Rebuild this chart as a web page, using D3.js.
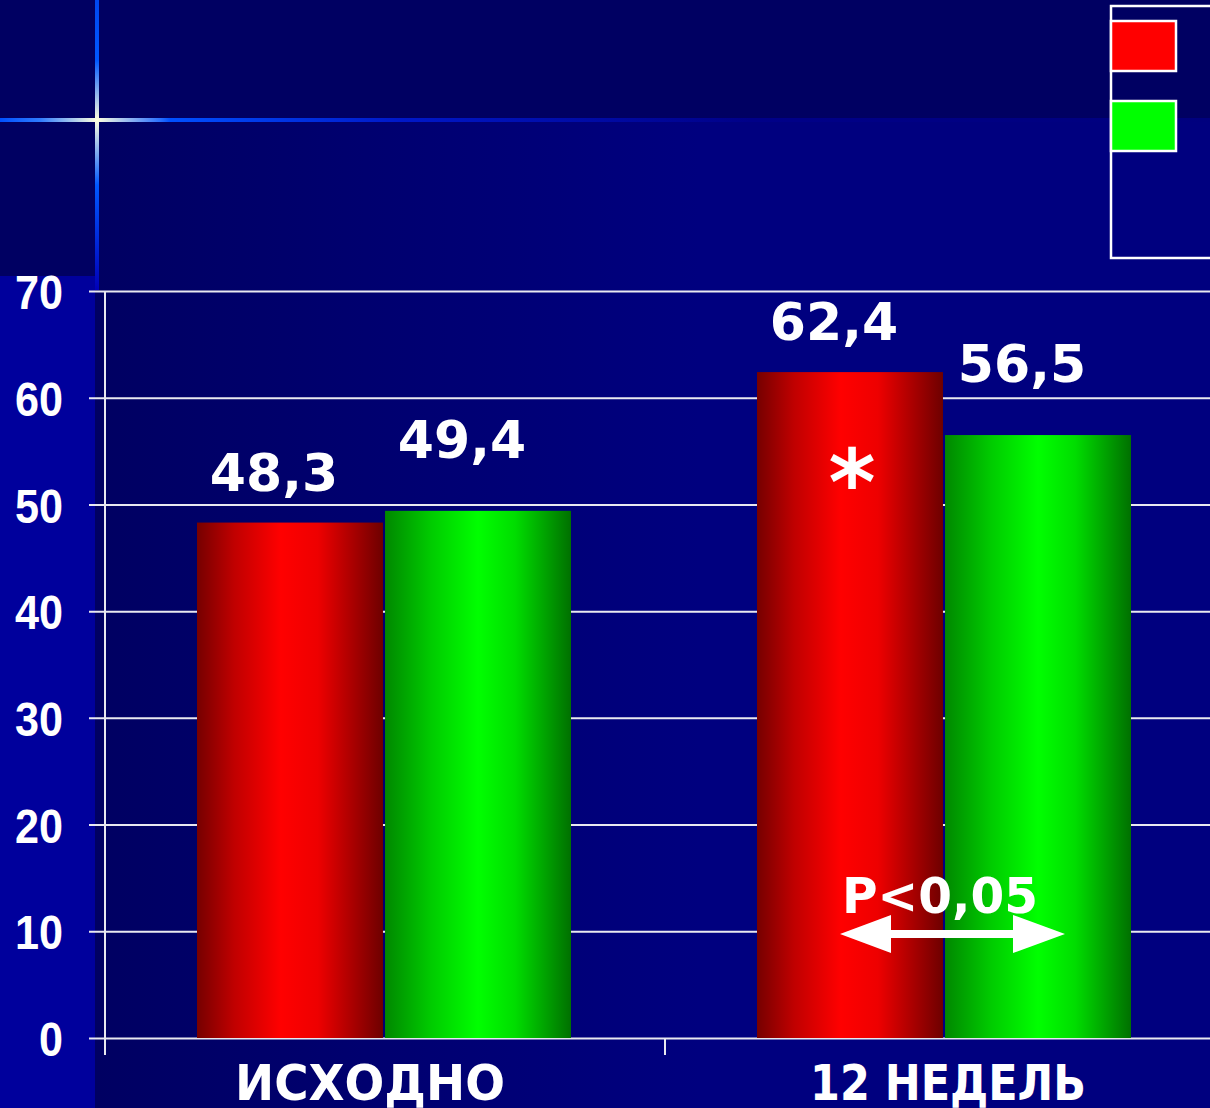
<!DOCTYPE html>
<html>
<head>
<meta charset="utf-8">
<script src="https://cdn.jsdelivr.net/npm/d3@7"></script>
<style>
  html, body { margin: 0; padding: 0; background: #000062; overflow: hidden; }
  svg { display: block; }
</style>
</head>
<body>
<svg id="chart" width="1210" height="1108"></svg>
<script>
// Chart data
const categories = ["ИСХОДНО", "12 НЕДЕЛЬ"];
const seriesKeys = ["a", "b"];
const seriesA = [48.3, 62.4];
const seriesB = [49.4, 56.5];
const valueLabelsA = ["48,3", "62,4"];
const valueLabelsB = ["49,4", "56,5"];
const yTicks = [0, 10, 20, 30, 40, 50, 60, 70];
const pValueText = "P<0,05";
const markText = "*";

const W = 1210, H = 1108;
const svg = d3.select("#chart");
const defs = svg.append("defs");

// ---- background ----
const bgGrad = defs.append("linearGradient").attr("id", "bgGrad")
  .attr("gradientUnits", "userSpaceOnUse").attr("x1", 95).attr("x2", 700).attr("y1", 0).attr("y2", 0);
bgGrad.append("stop").attr("offset", 0).attr("stop-color", "#000062");
bgGrad.append("stop").attr("offset", 1).attr("stop-color", "#00007f");

svg.append("rect").attr("x", 0).attr("y", 0).attr("width", W).attr("height", H).attr("fill", "#000062");
svg.append("rect").attr("x", 0).attr("y", 120).attr("width", W).attr("height", H - 120).attr("fill", "url(#bgGrad)");
svg.append("rect").attr("x", 0).attr("y", 276).attr("width", 95).attr("height", H - 276).attr("fill", "#00009c");

// glowing cross
const hGrad = defs.append("linearGradient").attr("id", "hGrad")
  .attr("gradientUnits", "userSpaceOnUse").attr("x1", 0).attr("x2", W).attr("y1", 0).attr("y2", 0);
[[0, "#0050ff"], [40 / W, "#2f7cff"], [97 / W, "#ffffe0"], [160 / W, "#2a70ff"], [170 / W, "#0050ff"],
 [400 / W, "#0018c8"], [750 / W, "#000088"], [1, "#00007e"]]
  .forEach(([o, c]) => hGrad.append("stop").attr("offset", o).attr("stop-color", c));
const vGrad = defs.append("linearGradient").attr("id", "vGrad")
  .attr("gradientUnits", "userSpaceOnUse").attr("x1", 0).attr("x2", 0).attr("y1", 0).attr("y2", 290);
[[0, "#0048f0"], [60 / 290, "#0058ff"], [120 / 290, "#ffffe0"], [185 / 290, "#0058ff"], [1, "#0000b8"]]
  .forEach(([o, c]) => vGrad.append("stop").attr("offset", o).attr("stop-color", c));

svg.append("rect").attr("x", 0).attr("y", 118).attr("width", W).attr("height", 4).attr("fill", "url(#hGrad)");
svg.append("rect").attr("x", 95).attr("y", 0).attr("width", 4).attr("height", 290).attr("fill", "url(#vGrad)");

// ---- scales ----
const x = d3.scaleBand().domain(categories).range([105, 1225]).padding(0);
const y = d3.scaleLinear().domain([0, 70]).range([1038, 291]);
const inner = d3.scaleBand().domain(seriesKeys).range([92, 466]).paddingInner(0.011);

// ---- gridlines and y axis ----
const yAxis = d3.axisLeft(y).tickValues(yTicks).tickSize(0).tickPadding(42);
const gy = svg.append("g").attr("transform", "translate(105,0)").call(yAxis);
gy.select(".domain").remove();
gy.selectAll(".tick line")
  .attr("x1", -16).attr("x2", W - 105)
  .attr("stroke", "#e8e8f0").attr("stroke-width", 2);
gy.selectAll(".tick text")
  .attr("fill", "#ffffff")
  .attr("font-family", "'Liberation Sans', Arial, sans-serif")
  .attr("font-weight", "bold")
  .attr("font-size", 49)
  .attr("textLength", d => String(d).length * 24)
  .attr("lengthAdjust", "spacingAndGlyphs")
  .attr("dy", "0.36em");

// vertical axis line
svg.append("line").attr("x1", 105).attr("x2", 105).attr("y1", y(70)).attr("y2", 1055)
  .attr("stroke", "#e8e8f0").attr("stroke-width", 2);

// category separator ticks
const sepTicks = [x.range()[0], x(categories[1])];
svg.selectAll(".sep").data(sepTicks).enter().append("line")
  .attr("x1", d => d).attr("x2", d => d).attr("y1", y(0)).attr("y2", 1055)
  .attr("stroke", "#e8e8f0").attr("stroke-width", 2);

// ---- bar gradients ----
const redGrad = defs.append("linearGradient").attr("id", "redGrad").attr("x1", 0).attr("x2", 1).attr("y1", 0).attr("y2", 0);
[[0, "#760000"], [0.2, "#c00000"], [0.45, "#ff0000"], [0.65, "#ee0000"], [1, "#6e0000"]]
  .forEach(([o, c]) => redGrad.append("stop").attr("offset", o).attr("stop-color", c));
const greenGrad = defs.append("linearGradient").attr("id", "greenGrad").attr("x1", 0).attr("x2", 1).attr("y1", 0).attr("y2", 0);
[[0, "#008800"], [0.25, "#00cc00"], [0.5, "#00ff00"], [0.7, "#00dd00"], [1, "#007000"]]
  .forEach(([o, c]) => greenGrad.append("stop").attr("offset", o).attr("stop-color", c));

const barData = [];
categories.forEach((c, i) => {
  barData.push({ cat: c, key: "a", value: seriesA[i], label: valueLabelsA[i], fill: "url(#redGrad)", dy: -32 });
  barData.push({ cat: c, key: "b", value: seriesB[i], label: valueLabelsB[i], fill: "url(#greenGrad)", dy: -53 });
});

const bars = svg.append("g");
bars.selectAll("rect").data(barData).enter().append("rect")
  .attr("x", d => x(d.cat) + inner(d.key))
  .attr("y", d => y(d.value))
  .attr("width", inner.bandwidth())
  .attr("height", d => y(0) - y(d.value))
  .attr("fill", d => d.fill);

// value labels
const fontMain = "'DejaVu Sans', Verdana, sans-serif";
svg.append("g").selectAll("text").data(barData).enter().append("text")
  .attr("x", d => x(d.cat) + inner(d.key) + inner.bandwidth() / 2 - 16)
  .attr("y", d => y(d.value) + d.dy)
  .attr("text-anchor", "middle")
  .attr("fill", "#ffffff")
  .attr("font-family", fontMain)
  .attr("font-weight", "bold")
  .attr("font-size", 52)
  .text(d => d.label);

// category labels
const catWidths = [270, 276];
svg.append("g").selectAll("text").data(categories).enter().append("text")
  .attr("x", (d, i) => x(d) + x.bandwidth() / 2 - (i === 0 ? 15 : -3))
  .attr("y", 1100)
  .attr("text-anchor", "middle")
  .attr("fill", "#ffffff")
  .attr("font-family", fontMain)
  .attr("font-weight", "bold")
  .attr("font-size", 50)
  .attr("textLength", (d, i) => catWidths[i])
  .attr("lengthAdjust", "spacingAndGlyphs")
  .text(d => d);

// significance mark on the second red bar
const c2 = categories[1];
const redX = x(c2) + inner("a") + inner.bandwidth() / 2;
svg.append("text")
  .attr("x", redX + 2)
  .attr("y", 514)
  .attr("text-anchor", "middle")
  .attr("fill", "#ffffff")
  .attr("font-family", fontMain)
  .attr("font-weight", "bold")
  .attr("font-size", 90)
  .text(markText);

// p-value text and double-headed arrow
const midX = x(c2) + x.bandwidth() / 2;
svg.append("text")
  .attr("x", midX - 5)
  .attr("y", 913)
  .attr("text-anchor", "middle")
  .attr("fill", "#ffffff")
  .attr("font-family", fontMain)
  .attr("font-weight", "bold")
  .attr("font-size", 50)
  .attr("textLength", 196)
  .attr("lengthAdjust", "spacingAndGlyphs")
  .text(pValueText);

const ax0 = midX - 105, ax1 = midX + 120, ay = 934;
const arrowPath = d3.path();
arrowPath.moveTo(ax0, ay);
arrowPath.lineTo(ax0 + 51, ay - 19);
arrowPath.lineTo(ax0 + 51, ay - 4);
arrowPath.lineTo(ax1 - 52, ay - 4);
arrowPath.lineTo(ax1 - 52, ay - 19);
arrowPath.lineTo(ax1, ay);
arrowPath.lineTo(ax1 - 52, ay + 19);
arrowPath.lineTo(ax1 - 52, ay + 4);
arrowPath.lineTo(ax0 + 51, ay + 4);
arrowPath.lineTo(ax0 + 51, ay + 19);
arrowPath.closePath();
svg.append("path").attr("d", arrowPath.toString()).attr("fill", "#ffffff");

// ---- legend (swatches only; box runs past the right edge) ----
svg.append("rect").attr("x", 1111).attr("y", 6).attr("width", 200).attr("height", 252)
  .attr("fill", "none").attr("stroke", "#ffffff").attr("stroke-width", 2.5);
const legendFills = ["#ff0000", "#00ff00"];
svg.append("g").selectAll("rect").data(seriesKeys).enter().append("rect")
  .attr("x", 1111)
  .attr("y", (d, i) => 21 + i * 80)
  .attr("width", 65)
  .attr("height", 50)
  .attr("fill", (d, i) => legendFills[i])
  .attr("stroke", "#ffffff").attr("stroke-width", 2.5);
</script>
</body>
</html>
